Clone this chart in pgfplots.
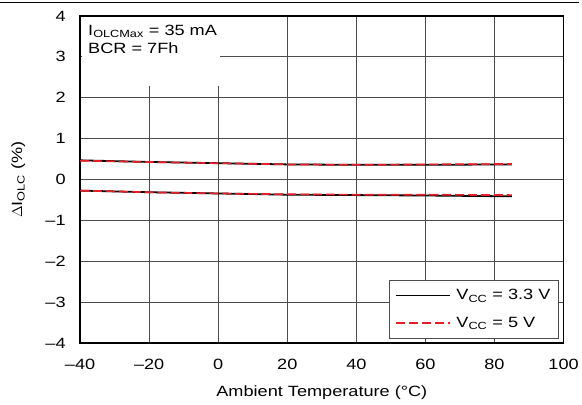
\documentclass[border=0pt]{standalone}
\usepackage{fontspec}
\setmainfont[FakeStretch=1.22]{Liberation Sans}
\usepackage{pgfplots}
\pgfplotsset{compat=1.18}
\definecolor{tired}{RGB}{230,30,40}
\begin{document}
\begin{tikzpicture}[font=\fontsize{15}{17}\selectfont]
\begin{axis}[
  scale only axis,
  width=486bp, height=329bp,
  xmin=-40, xmax=100, ymin=-4, ymax=4,
  xtick={-40,-20,0,20,40,60,80,100},
  xticklabels={–40,–20,0,20,40,60,80,100},
  ytick={-4,-3,-2,-1,0,1,2,3,4},
  yticklabels={–4,–3,–2,–1,0,1,2,3,4},
  major tick length=0pt,
  grid=major,
  major grid style={black!70, line width=0.7pt},
  axis line style={line width=1.6pt},
  tick label style={font=\fontsize{15}{17}\selectfont},
  xticklabel style={yshift=-12bp},
  yticklabel style={xshift=-11bp},
  legend cell align=left,
  legend style={at={(rel axis cs:0.99,0.015)}, anchor=south east,
    draw=black!70, line width=0.8pt, fill=white,
    font=\fontsize{15}{17}\selectfont, inner xsep=6bp, inner ysep=7bp,
    row sep=12bp},
  legend image code/.code={\draw[#1, line width=1.8pt] (0cm,0cm) -- (54bp,0cm); \path (58bp,0cm);},
  clip=false,
]
\coordinate (SW) at (rel axis cs:0,0);
\coordinate (NE) at (rel axis cs:1,1);
\coordinate (BOT) at (rel axis cs:0.5,0);
\coordinate (LEFT) at (rel axis cs:0,0.5);
\node[fill=white, anchor=north west, inner sep=0pt, minimum width=139bp, minimum height=69bp] at (rel axis cs:0.003,0.997) {};
\node[anchor=north west, align=left, inner sep=0pt] at ([xshift=8bp,yshift=-9bp]rel axis cs:0,1) {I\textsubscript{OLCMax} = 35 mA\\[1bp]BCR = 7Fh};
\addplot[black, line width=1.8pt] coordinates {(-40,0.47) (-20,0.43) (0,0.40) (20,0.37) (40,0.36) (60,0.36) (85,0.37)};
\addlegendentry{V\textsubscript{CC} = 3.3 V}
\addplot[tired, line width=1.7pt, dash pattern=on 9bp off 4bp] coordinates {(-40,0.46) (-20,0.43) (0,0.40) (20,0.37) (40,0.36) (60,0.37) (85,0.38)};
\addlegendentry{V\textsubscript{CC} = 5 V}
\addplot[black, line width=1.8pt, forget plot] coordinates {(-40,-0.27) (-20,-0.31) (0,-0.34) (20,-0.37) (40,-0.38) (60,-0.39) (85,-0.41)};
\addplot[tired, line width=1.7pt, dash pattern=on 9bp off 4bp, forget plot] coordinates {(-40,-0.27) (-20,-0.31) (0,-0.34) (20,-0.36) (40,-0.37) (60,-0.37) (85,-0.38)};
\end{axis}
\node at ([yshift=-50bp]BOT) {Ambient Temperature (°C)};
\node[rotate=90] at ([xshift=-62bp]LEFT) {$\Delta$I\textsubscript{OLC} (\%)};
\draw[line width=1pt] ([xshift=-80bp,yshift=13bp]SW |- NE) -- ([xshift=16bp,yshift=13bp]NE);
\useasboundingbox ([xshift=-80bp,yshift=-62bp]SW) rectangle ([xshift=16bp,yshift=16bp]NE);
\end{tikzpicture}
\end{document}
